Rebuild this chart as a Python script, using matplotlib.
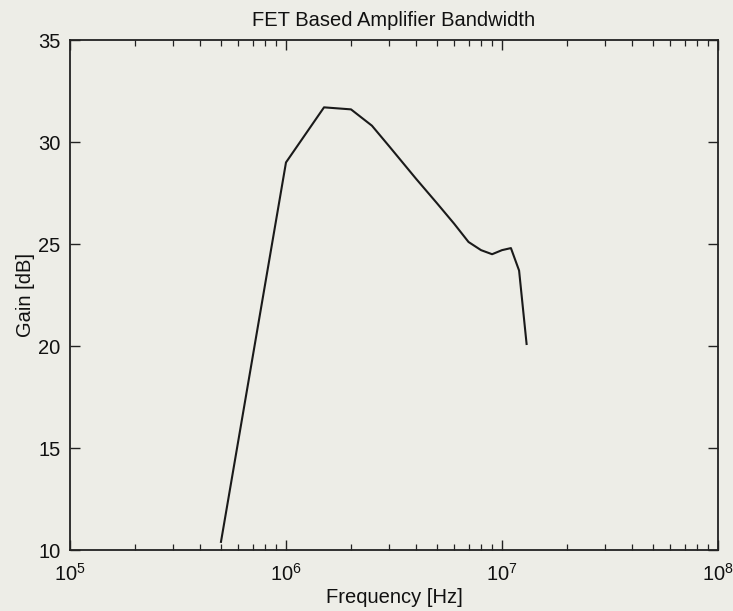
import numpy as np
import matplotlib
matplotlib.use('Agg')
import matplotlib.pyplot as plt
from matplotlib.ticker import LogLocator, NullFormatter

# -----------------------
# Data
# -----------------------
freq_hz = [5e5, 1e6, 1.5e6, 2e6, 2.5e6, 3e6, 4e6, 5e6, 6e6, 7e6,
           8e6, 9e6, 1e7, 1.1e7, 1.2e7, 1.3e7]
gain_db = [10.4, 29.0, 31.7, 31.6, 30.8, 29.8, 28.2, 27.0, 26.0, 25.1,
           24.7, 24.5, 24.7, 24.8, 23.7, 20.1]
y_ticks = [10, 15, 20, 25, 30, 35]

# -----------------------
# Style (MATLAB-ish look)
# -----------------------
plt.rcParams['font.family'] = ['Liberation Sans', 'DejaVu Sans']
plt.rcParams['mathtext.fontset'] = 'custom'
plt.rcParams['mathtext.rm'] = 'Liberation Sans'
plt.rcParams['mathtext.it'] = 'Liberation Sans'
fs = 14.5

bg = '#ededE7'
ink = '#111111'
fig = plt.figure(figsize=(7.33, 6.11), dpi=100, facecolor=bg)
ax = fig.add_axes([0.0955, 0.0998, 0.884, 0.8347], facecolor=bg)

ax.plot(freq_hz, gain_db, color='#1a1a1a', linewidth=1.5)

ax.set_xscale('log')
ax.set_xlim(1e5, 1e8)
ax.set_ylim(10, 35)
ax.set_yticks(y_ticks)
ax.xaxis.set_major_locator(LogLocator(base=10, numticks=10))
ax.xaxis.set_minor_locator(LogLocator(base=10, subs=np.arange(2, 10), numticks=100))
ax.xaxis.set_minor_formatter(NullFormatter())

ax.tick_params(which='both', direction='in', top=True, right=True,
               color='#222222', labelcolor=ink)
ax.tick_params(which='major', length=7, width=1.0, labelsize=fs)
ax.tick_params(axis='x', which='major', pad=9)
ax.tick_params(axis='y', which='major', pad=7)
ax.tick_params(which='minor', length=4, width=0.9)
for s in ax.spines.values():
    s.set_color('#222222')
    s.set_linewidth(1.3)

ax.set_title('FET Based Amplifier Bandwidth', fontsize=fs, pad=10, color=ink)
ax.set_xlabel('Frequency [Hz]', fontsize=fs, color=ink)
ax.xaxis.set_label_coords(0.5, -0.075)
ax.set_ylabel('Gain [dB]', fontsize=fs, color=ink, labelpad=2)

fig.savefig('out.png', dpi=100, facecolor=bg)
